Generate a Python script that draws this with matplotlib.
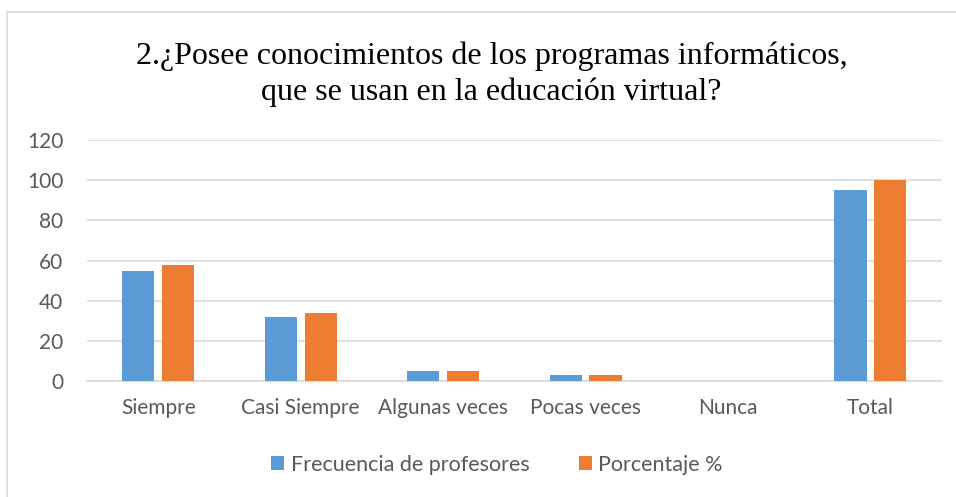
import matplotlib
matplotlib.use("Agg")
import matplotlib.pyplot as plt
from matplotlib.patches import Rectangle
import numpy as np

categorias = ["Siempre", "Casi Siempre", "Algunas veces", "Pocas veces", "Nunca", "Total"]
frecuencia = [55, 32, 5, 3, 0, 95]
porcentaje = [58, 34, 5, 3, 0, 100]

azul = "#5B9BD5"
naranja = "#ED7D31"
gris = "#595959"

fig = plt.figure(figsize=(9.56, 4.97), dpi=100)
ax = fig.add_axes([0.091, 0.2334, 0.894, 0.4849])

x = np.arange(len(categorias))
ancho = 0.225
ax.bar(x - 0.14, frecuencia, ancho, color=azul, label="Frecuencia de profesores", zorder=3)
ax.bar(x + 0.14, porcentaje, ancho, color=naranja, label="Porcentaje %", zorder=3)

ax.set_xlim(-0.5, len(categorias) - 0.5)
ax.set_ylim(0, 120)
ax.set_yticks(range(0, 121, 20))
ax.yaxis.grid(True, color="#D9D9D9", linewidth=1.2, zorder=0)
ax.set_xticks(x)
ax.set_xticklabels(categorias)
ax.tick_params(axis="both", length=0, labelsize=15, labelcolor=gris)
ax.tick_params(axis="x", pad=12)
ax.tick_params(axis="y", pad=17)
for lab in ax.get_xticklabels() + ax.get_yticklabels():
    lab.set_family("Lato")
for s in ["top", "right", "left"]:
    ax.spines[s].set_visible(False)
ax.spines["bottom"].set_color("#D9D9D9")
ax.spines["bottom"].set_linewidth(1.2)

fig.text(0.514, 0.851, "2.¿Posee conocimientos de los programas informáticos,\nque se usan en la educación virtual?",
         ha="center", va="center", fontsize=23, family="Liberation Serif", linespacing=1.3)

leg = fig.legend(loc="center", bbox_to_anchor=(0.52, 0.065), ncol=2, frameon=False,
                 prop={"family": "Lato", "size": 15.5}, handlelength=0.6, handleheight=0.6,
                 columnspacing=2.3, handletextpad=0.3)
for t in leg.get_texts():
    t.set_color(gris)

fig.patches.append(Rectangle((7 / 956, -0.01), 1.0, 1 - 12 / 497 + 0.01, transform=fig.transFigure,
                             fill=False, edgecolor="#D9D9D9", linewidth=1.2))

fig.savefig("out.png", dpi=100)
